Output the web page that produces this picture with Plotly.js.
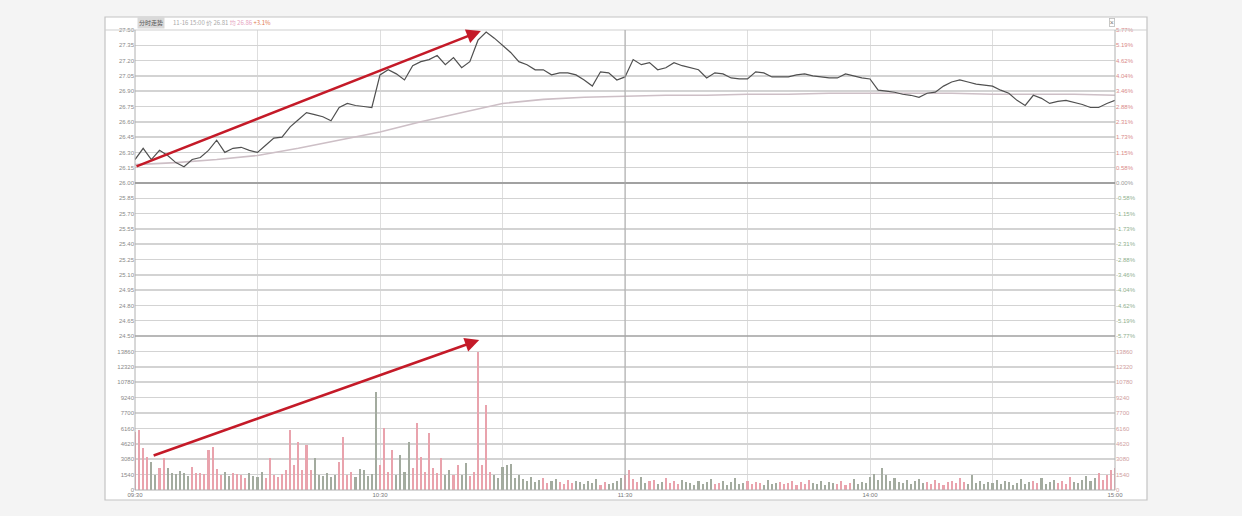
<!DOCTYPE html>
<html><head><meta charset="utf-8">
<script src="https://cdn.plot.ly/plotly-3.0.1.min.js"></script>
<style>html,body{margin:0;padding:0;background:#f4f4f4;}#chart{width:1242px;height:516px;}</style>
</head><body><div id="chart"></div>
<script>
// ---- data ----
const prevClose = 26.00;
const priceStepMinutes = 2;   // one price point every 2 minutes
const price = [
 26.23,26.34,26.23,26.32,26.27,26.20,26.16,26.23,26.25,26.32,
 26.42,26.30,26.34,26.35,26.32,26.30,26.37,26.44,26.45,26.55,
 26.62,26.69,26.67,26.65,26.61,26.74,26.78,26.76,26.75,26.74,
 27.06,27.11,27.07,27.01,27.15,27.19,27.21,27.25,27.16,27.23,
 27.13,27.19,27.40,27.48,27.42,27.35,27.28,27.19,27.16,27.11,
 27.11,27.06,27.08,27.08,27.06,27.01,26.95,27.09,27.08,27.01,
 27.04,27.21,27.16,27.18,27.11,27.13,27.18,27.15,27.13,27.11,
 27.03,27.08,27.07,27.03,27.02,27.02,27.09,27.08,27.04,27.04,
 27.04,27.06,27.07,27.05,27.04,27.03,27.03,27.07,27.05,27.03,
 27.02,26.91,26.90,26.89,26.87,26.86,26.84,26.88,26.89,26.95,
 26.99,27.01,26.99,26.97,26.96,26.95,26.91,26.88,26.81,26.76,
 26.86,26.83,26.78,26.80,26.81,26.79,26.77,26.74,26.74,26.78,
 26.81
];
const avgStepMinutes = 10;    // one average-price point every 10 minutes
const avgPrice = [
 26.18,26.20,26.23,26.27,26.34,26.42,26.50,26.60,26.69,26.78,
 26.82,26.84,26.85,26.86,26.86,26.87,26.87,26.88,26.88,26.88,
 26.88,26.87,26.87,26.87,26.86
];
const volume = [
 5800,6000,4200,3300,2800,1500,2200,3200,2200,1700,
 1600,1900,1700,1400,2300,1700,1700,1600,4000,4300,
 2100,1500,1800,1400,1700,1600,1500,1200,1700,1400,
 1300,1800,1200,3200,1500,1300,1600,2000,6000,2500,
 4800,2000,4500,2000,3200,1500,1400,1700,1300,1500,
 2800,5300,1500,1800,1300,2100,2000,1400,1600,9800,
 2500,6200,1800,4000,1500,3500,1800,4800,2200,6700,
 3300,1800,5700,2200,1700,3200,1500,2000,1500,2500,
 1500,2700,1400,1800,13800,2500,8500,1800,1500,1200,
 2300,2500,2600,1200,1500,1100,900,1300,800,1000,
 1200,700,900,1100,800,600,1000,700,900,800,
 600,900,700,1100,500,800,600,700,900,1200,
 1500,2000,1100,800,1300,700,900,1000,600,800,
 1200,700,900,600,1000,800,700,500,900,600,
 800,1100,600,700,900,500,800,1200,600,700,
 900,600,800,700,500,1000,600,700,800,600,
 700,900,500,800,600,1000,700,600,900,500,
 800,700,600,900,500,700,1100,600,800,700,
 1300,1600,1000,2200,1500,900,1200,800,700,1000,
 600,900,1100,700,800,600,1000,700,500,800,
 900,700,1200,800,600,1500,700,900,600,800,
 700,1000,600,900,800,500,700,1100,600,800,
 900,700,1200,600,800,1000,700,900,600,1300,
 800,700,1000,1400,900,1200,1700,1000,1500,2000,
 2200
];
const priceTicks = [27.50,27.35,27.20,27.05,26.90,26.75,26.60,26.45,26.30,26.15,26.00,
                    25.85,25.70,25.55,25.40,25.25,25.10,24.95,24.80,24.65,24.50];
const volTicks = [0,1540,3080,4620,6160,7700,9240,10780,12320,13860,15400];
const timeTickVals = [0,30,60,90,120,150,180,210,240];
const timeTickText = ['09:30','','10:30','','11:30','','14:00','','15:00'];
const headerLabel = '分时走势';
const headerInfo = '11-16 15:00 价 26.81 ';
const headerAvg = '均 26.86';
const headerChg = ' +3.1%';

// ---- derived ----
const priceX = price.map((_, i) => i * priceStepMinutes);
const avgX = avgPrice.map((_, i) => i * avgStepMinutes);
const volX = volume.map((_, i) => i);
const volColors = volume.map((_, t) => {
  const i = Math.floor(t / priceStepMinutes);
  const prev = i === 0 ? prevClose : price[i - 1];
  return price[i] >= prev ? '#e9a3ad' : '#a3ab9f';
});
const pct = p => (p / prevClose - 1) * 100;
const pctTicks = priceTicks.map(pct);
const pctText = pctTicks.map(v => {
  const c = v > 0.0001 ? '#d98a8a' : (v < -0.0001 ? '#8fb08f' : '#999');
  return '<span style="color:' + c + '">' + v.toFixed(2) + '%</span>';
});
const priceText = priceTicks.map(v => v.toFixed(2));
const volText = volTicks.map((v, i) => i === volTicks.length - 1 ? '' : String(v));
const vMax = volTicks[volTicks.length - 1];
const split = 154 / 460;

const tickFont = {family: 'Liberation Sans, Arial, sans-serif', size: 6, color: '#8a8a8a'};

const traces = [
  {x: volX, y: volume, type: 'bar', xaxis: 'x', yaxis: 'y2',
   marker: {color: volColors}, width: 0.5, hoverinfo: 'skip'},
  {x: avgX, y: avgPrice, type: 'scatter', mode: 'lines', xaxis: 'x', yaxis: 'y',
   line: {color: '#cdbfc6', width: 1.6}, hoverinfo: 'skip'},
  {x: priceX, y: price, type: 'scatter', mode: 'lines', xaxis: 'x', yaxis: 'y',
   line: {color: '#505050', width: 1.2}, hoverinfo: 'skip'},
  {x: priceX, y: price.map(pct), type: 'scatter', mode: 'lines', xaxis: 'x', yaxis: 'y3',
   line: {color: 'rgba(0,0,0,0)', width: 0}, hoverinfo: 'skip'},
  {x: volX, y: volume, type: 'scatter', mode: 'lines', xaxis: 'x', yaxis: 'y4',
   line: {color: 'rgba(0,0,0,0)', width: 0}, hoverinfo: 'skip'}
];

const grid = '#d3d3d3';
const layout = {
  width: 1242, height: 516,
  margin: {l: 135, r: 127, t: 30, b: 26},
  paper_bgcolor: '#f4f4f4', plot_bgcolor: '#ffffff',
  showlegend: false, bargap: 0,
  font: {family: 'Liberation Sans, Arial, sans-serif'},
  xaxis: {domain: [0, 1], anchor: 'y2', range: [0, 240],
    tickvals: timeTickVals, ticktext: timeTickText, tickfont: {family: 'Liberation Sans, Arial, sans-serif', size: 6, color: '#777'},
    showgrid: true, gridcolor: '#dedede', gridwidth: 1, zeroline: false, ticks: '', fixedrange: true},
  yaxis: {domain: [split, 1], range: [priceTicks[priceTicks.length - 1], priceTicks[0]],
    tickvals: priceTicks, ticktext: priceText, tickfont: tickFont,
    showgrid: true, gridcolor: grid, gridwidth: 1.5, zeroline: false, ticks: '', fixedrange: true},
  yaxis2: {domain: [0, split], range: [0, vMax],
    tickvals: volTicks, ticktext: volText, tickfont: tickFont,
    showgrid: true, gridcolor: grid, gridwidth: 1.5, zeroline: false, ticks: '', fixedrange: true},
  yaxis3: {overlaying: 'y', side: 'right', anchor: 'x',
    range: [pct(priceTicks[priceTicks.length - 1]), pct(priceTicks[0])],
    tickvals: pctTicks, ticktext: pctText, tickfont: tickFont,
    showgrid: false, zeroline: false, ticks: '', fixedrange: true},
  yaxis4: {overlaying: 'y2', side: 'right', anchor: 'x', range: [0, vMax],
    tickvals: volTicks, ticktext: volTicks.map((v, i) => i === volTicks.length - 1 ? '' : String(v)),
    tickfont: {family: 'Liberation Sans, Arial, sans-serif', size: 6, color: '#d0a0a0'},
    showgrid: false, zeroline: false, ticks: '', fixedrange: true},
  shapes: [
    {type: 'rect', layer: 'below', xref: 'paper', yref: 'paper',
     x0: -30 / 980, x1: 1012 / 980, y0: -10 / 460, y1: 473 / 460,
     fillcolor: '#ffffff', line: {color: '#c4c4c4', width: 1.2}},
    {type: 'line', xref: 'paper', yref: 'paper', x0: -30 / 980, x1: 1012 / 980, y0: 1, y1: 1,
     line: {color: '#cfcfcf', width: 1}},
    {type: 'line', xref: 'paper', yref: 'paper', x0: 0, x1: 0, y0: 0, y1: 1,
     line: {color: '#b0b0b0', width: 1}},
    {type: 'line', xref: 'paper', yref: 'paper', x0: 1, x1: 1, y0: 0, y1: 1,
     line: {color: '#b0b0b0', width: 1}},
    {type: 'line', xref: 'paper', yref: 'paper', x0: 0, x1: 1, y0: 0, y1: 0,
     line: {color: '#b0b0b0', width: 1}},
    {type: 'line', xref: 'paper', yref: 'y', x0: 0, x1: 1, y0: prevClose, y1: prevClose,
     line: {color: '#909090', width: 1.3}},
    {type: 'line', xref: 'paper', yref: 'paper', x0: 0, x1: 1, y0: split, y1: split,
     line: {color: '#a0a0a0', width: 1.3}},
    {type: 'line', xref: 'x', yref: 'paper', x0: 120, x1: 120, y0: 0, y1: 1,
     line: {color: '#a8a8a8', width: 1}}
  ],
  annotations: [
    {xref: 'paper', yref: 'paper', x: 2 / 980, y: 467 / 460, xanchor: 'left', yanchor: 'middle',
     text: headerLabel, showarrow: false, bgcolor: '#d9d9d9',
     font: {family: 'Noto Sans CJK SC, sans-serif', size: 6, color: '#555'}},
    {xref: 'paper', yref: 'paper', x: 36 / 980, y: 467 / 460, xanchor: 'left', yanchor: 'middle',
     text: headerInfo + '<span style="color:#e6a3c0">' + headerAvg + '</span><span style="color:#e07a50">' + headerChg + '</span>',
     showarrow: false, font: {family: 'Noto Sans CJK SC, sans-serif', size: 6, color: '#aaa'}},
    {xref: 'paper', yref: 'paper', x: 977 / 980, y: 468 / 460, xanchor: 'center', yanchor: 'middle',
     text: '×', showarrow: false, bordercolor: '#bbb', borderwidth: 0.8, borderpad: 0,
     font: {size: 7, color: '#777'}},
    {x: 84.7, y: 27.49, ax: 0, ay: 26.157, xref: 'x', yref: 'y', axref: 'x', ayref: 'y',
     text: '', showarrow: true, arrowhead: 2, arrowsize: 1.1, arrowwidth: 2.6, arrowcolor: '#c41a28', standoff: 0},
    {x: 84.3, y: 15000, ax: 4.2, ay: 3400, xref: 'x', yref: 'y2', axref: 'x', ayref: 'y2',
     text: '', showarrow: true, arrowhead: 2, arrowsize: 1.1, arrowwidth: 2.6, arrowcolor: '#c41a28', standoff: 0}
  ]
};

Plotly.newPlot('chart', traces, layout, {staticPlot: true, displayModeBar: false});
</script>
</body></html>
